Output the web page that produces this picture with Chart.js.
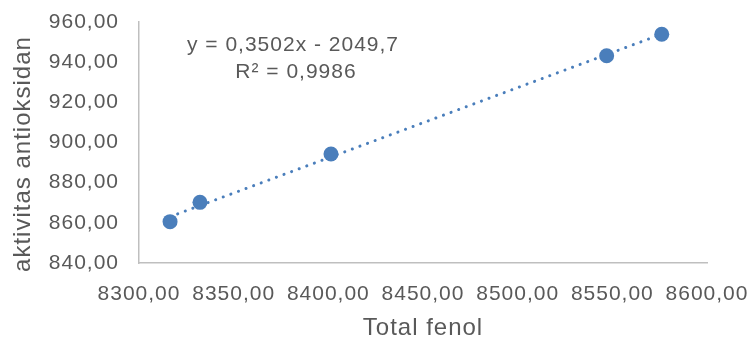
<!DOCTYPE html>
<html>
<head>
<meta charset="utf-8">
<script src="https://cdn.jsdelivr.net/npm/chart.js@4/dist/chart.umd.min.js"></script>
<style>
    html, body { margin: 0; padding: 0; background: #fff; }
    #wrap { width: 750px; height: 343px; }
</style>
</head>
<body>
<div id="wrap"><canvas id="chart"></canvas></div>
<script>
// data
const fenolValues = [8316.4, 8332.2, 8401.4, 8547.0, 8576.1];
const antioksidanValues = [860.6, 870.2, 894.3, 943.2, 953.9];
const equationLines = ["y = 0,3502x - 2049,7", "R² = 0,9986"];
const xTitle = "Total fenol";
const yTitle = "aktivitas antioksidan";

const blue = "#4A7EBB";
const grey = "#595959";
const fontName = "'Liberation Sans', Arial, sans-serif";

// comma decimals, like the excel sheet
const formatTick = function (v) {
    return v.toFixed(2).replace(".", ",");
};

// lineaire trendlijn (kleinste kwadraten) tussen eerste en laatste punt
const makeTrend = function (xs, ys) {
    const n = xs.length;
    const mx = xs.reduce((a, b) => a + b, 0) / n;
    const my = ys.reduce((a, b) => a + b, 0) / n;
    let sxy = 0, sxx = 0;
    for (let i = 0; i < n; i++) {
        sxy += (xs[i] - mx) * (ys[i] - my);
        sxx += (xs[i] - mx) * (xs[i] - mx);
    }
    const slope = sxy / sxx;
    const icpt = my - slope * mx;
    const x0 = Math.min(...xs), x1 = Math.max(...xs);
    return [{ x: x0, y: slope * x0 + icpt }, { x: x1, y: slope * x1 + icpt }];
};

const points = fenolValues.map((x, i) => ({ x: x, y: antioksidanValues[i] }));

// excel text is a bit wider than arial, so spread the letters a little
const spacingPlugin = {
    id: "spacing",
    beforeLayout(chart) { chart.ctx.letterSpacing = "1px"; },
    beforeDraw(chart) { chart.ctx.letterSpacing = "1px"; }
};

const equationPlugin = {
    id: "equation",
    afterDraw(chart) {
        const ctx = chart.ctx;
        ctx.save();
        ctx.letterSpacing = "1px";
        ctx.font = "21px " + fontName;
        ctx.fillStyle = grey;
        ctx.textAlign = "center";
        ctx.textBaseline = "alphabetic";
        ctx.fillText(equationLines[0], 293, 51);
        ctx.fillText(equationLines[1], 296, 78);
        ctx.restore();
    }
};

const ctx = document.getElementById("chart");
const chart = new Chart(ctx, {
    type: "scatter",
    data: {
        datasets: [
            {
                label: "trend",
                data: makeTrend(fenolValues, antioksidanValues),
                showLine: true,
                borderColor: blue,
                borderWidth: 3,
                borderDash: [0.1, 8],
                borderCapStyle: "round",
                pointRadius: 0,
                pointHoverRadius: 0,
                order: 2
            },
            {
                label: "data",
                data: points,
                backgroundColor: blue,
                borderColor: blue,
                pointRadius: 7.5,
                pointHoverRadius: 7.5,
                borderWidth: 0,
                order: 1
            }
        ]
    },
    options: {
        responsive: true,
        maintainAspectRatio: false,
        animation: false,
        layout: { padding: { left: 0, right: 43, top: 22, bottom: 0 } },
        plugins: {
            legend: { display: false },
            tooltip: { enabled: false }
        },
        scales: {
            x: {
                type: "linear",
                min: 8300,
                max: 8600,
                grid: { display: false, drawTicks: false },
                border: { display: true, color: "#BFBFBF", width: 1.5 },
                ticks: {
                    stepSize: 50,
                    padding: 19,
                    color: grey,
                    font: { family: fontName, size: 21 },
                    maxRotation: 0,
                    callback: formatTick
                },
                title: {
                    display: true,
                    text: xTitle,
                    color: grey,
                    font: { family: fontName, size: 24 },
                    padding: { top: 4, bottom: 0 }
                },
                afterFit(scale) {
                    scale.height = 80;
                    scale.paddingLeft = 0;
                    scale.paddingRight = 0;
                }
            },
            y: {
                min: 840,
                max: 960,
                grid: { display: false, drawTicks: false },
                border: { display: true, color: "#BFBFBF", width: 1.5 },
                ticks: {
                    stepSize: 20,
                    padding: 20,
                    color: grey,
                    font: { family: fontName, size: 21 },
                    callback: formatTick
                },
                title: {
                    display: true,
                    // trailing spaces nudge the rotated title down like in excel
                    text: yTitle + "   ",
                    color: grey,
                    font: { family: fontName, size: 24 },
                    padding: { top: 9, bottom: 0 }
                },
                afterFit(scale) {
                    scale.width = 139;
                    scale.paddingTop = 0;
                    scale.paddingBottom = 0;
                }
            }
        }
    },
    plugins: [spacingPlugin, equationPlugin]
});
</script>
</body>
</html>
